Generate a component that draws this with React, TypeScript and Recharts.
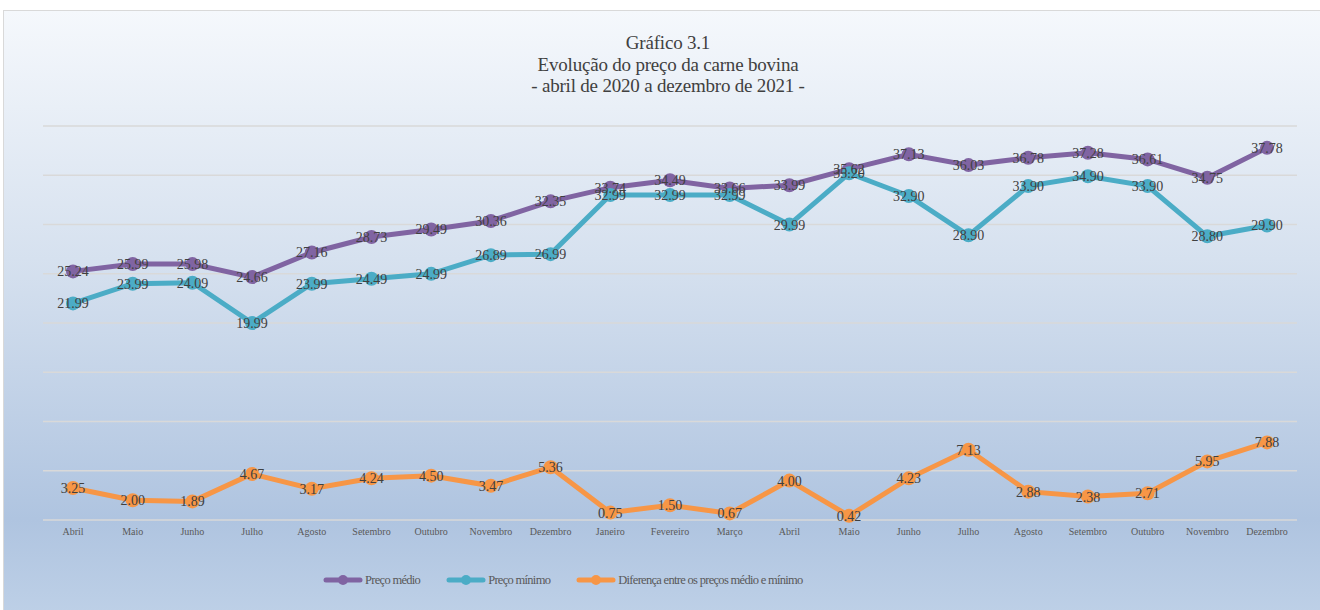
import React from "react";
import { LineChart, Line, XAxis, YAxis, CartesianGrid, LabelList, Legend } from "recharts";

const months = [
  "Abril", "Maio", "Junho", "Julho", "Agosto", "Setembro", "Outubro", "Novembro", "Dezembro",
  "Janeiro", "Fevereiro", "Março", "Abril", "Maio", "Junho", "Julho", "Agosto", "Setembro",
  "Outubro", "Novembro", "Dezembro",
];

const precoMedio = [
  25.24, 25.99, 25.98, 24.66, 27.16, 28.73, 29.49, 30.36, 32.35, 33.74, 34.49, 33.66,
  33.99, 35.62, 37.13, 36.03, 36.78, 37.28, 36.61, 34.75, 37.78,
];

const precoMinimo = [
  21.99, 23.99, 24.09, 19.99, 23.99, 24.49, 24.99, 26.89, 26.99, 32.99, 32.99, 32.99,
  29.99, 35.2, 32.9, 28.9, 33.9, 34.9, 33.9, 28.8, 29.9,
];

const diferenca = [
  3.25, 2.0, 1.89, 4.67, 3.17, 4.24, 4.5, 3.47, 5.36, 0.75, 1.5, 0.67, 4.0, 0.42, 4.23,
  7.13, 2.88, 2.38, 2.71, 5.95, 7.88,
];

const yTicks = [0, 5, 10, 15, 20, 25, 30, 35, 40];

const series = [
  { key: "medio", name: "Preço médio", color: "#8064a2" },
  { key: "minimo", name: "Preço mínimo", color: "#4bacc6" },
  { key: "dif", name: "Diferença entre os preços médio e mínimo", color: "#f79646" },
];

const data = months.map((m, i) => ({
  idx: i,
  month: m,
  medio: precoMedio[i],
  minimo: precoMinimo[i],
  dif: diferenca[i],
}));

const FONT = "'Liberation Serif', 'DejaVu Serif', serif";

function LegendContent() {
  return (
    <div
      style={{
        display: "flex",
        justifyContent: "flex-start",
        alignItems: "center",
        height: 60,
        paddingLeft: 280,
        fontFamily: FONT,
        fontSize: 12.5,
        letterSpacing: -0.7,
        color: "#595959",
      }}
    >
      {series.map((s) => (
        <div key={s.key} style={{ display: "flex", alignItems: "center", marginRight: 26 }}>
          <svg width={40} height={12} style={{ marginRight: 2 }}>
            <line x1={3} y1={6} x2={37} y2={6} stroke={s.color} strokeWidth={5} strokeLinecap="round" />
            <circle cx={20} cy={6} r={5} fill={s.color} />
          </svg>
          <span>{s.name}</span>
        </div>
      ))}
    </div>
  );
}

export default function App() {
  return (
    <div style={{ position: "absolute", left: 0, top: 0, width: 1320, height: 610, background: "#fff", overflow: "hidden" }}>
      <div
        style={{
          position: "absolute",
          left: 3,
          top: 10,
          width: 1340,
          height: 620,
          border: "1px solid #d9d9d9",
          background: "linear-gradient(to bottom, #f5f8fc 0%, #d6e1ef 40%, #afc4e0 82%, #c0d2e8 100%)",
        }}
      />
      <div
        style={{
          position: "absolute",
          left: 0,
          top: 32,
          width: 1336,
          textAlign: "center",
          fontFamily: FONT,
          fontSize: 19,
          letterSpacing: -0.2,
          lineHeight: "21.5px",
          color: "#404040",
        }}
      >
        <div>Gráfico 3.1</div>
        <div>Evolução do preço da carne bovina</div>
        <div>- abril de 2020 a dezembro de 2021 -</div>
      </div>
      <div style={{ position: "absolute", left: 0, top: 0 }}>
        <LineChart width={1320} height={610} data={data} margin={{ top: 126, right: 23, left: 43, bottom: 0 }}>
          <CartesianGrid horizontal vertical={false} stroke="#d9d9d9" strokeWidth={1.5} />
          <XAxis
            dataKey="idx"
            type="category"
            axisLine={false}
            tickLine={false}
            height={30}
            padding={{ left: 30, right: 30 }}
            interval={0}
            tickFormatter={(v: number) => months[v]}
            tick={{ fill: "#595959", fontSize: 10, fontFamily: FONT }}
          />
          <YAxis hide domain={[0, 40]} ticks={yTicks} />
          <Legend verticalAlign="bottom" height={60} content={<LegendContent />} />
          {series.map((s) => (
            <Line
              key={s.key}
              type="linear"
              dataKey={s.key}
              name={s.name}
              stroke={s.color}
              strokeWidth={5}
              dot={{ r: 7, fill: s.color, stroke: "none" }}
              activeDot={false}
              isAnimationActive={false}
            >
              <LabelList
                dataKey={s.key}
                position="center"
                formatter={(v: number) => v.toFixed(2)}
                style={{ fill: "#404040", fontSize: 14, fontFamily: FONT }}
              />
            </Line>
          ))}
        </LineChart>
      </div>
    </div>
  );
}
